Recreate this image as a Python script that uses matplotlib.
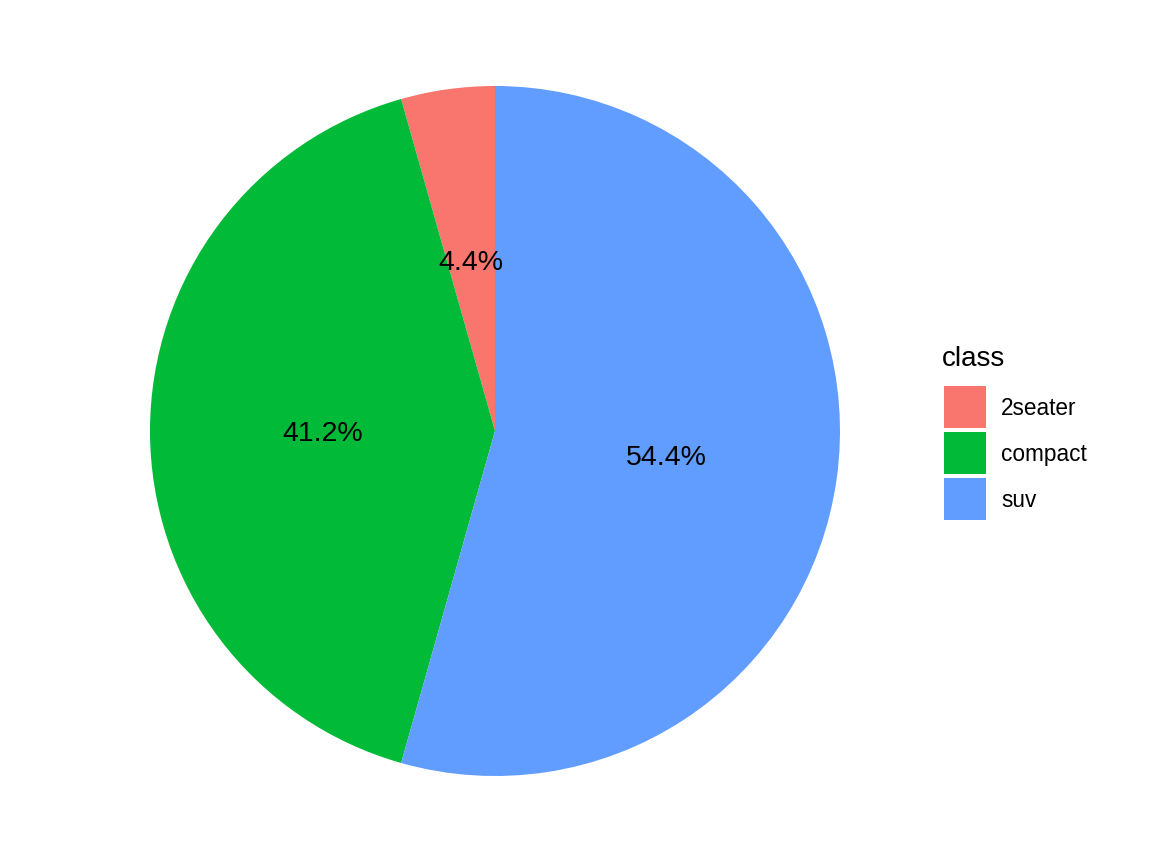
import matplotlib.pyplot as plt
from matplotlib.patches import Rectangle

plt.rcParams['font.family'] = ['Liberation Sans', 'DejaVu Sans']

classes = ['2seater', 'compact', 'suv']
counts = [5, 47, 62]
colors = ['#F8766D', '#00BA38', '#619CFF']

W, H = 1152, 864
fig = plt.figure(figsize=(W / 100, H / 100), dpi=100)

# pie: centre (495, 431), radius 345 px
cx, cy, r = 495, 431, 345
ax = fig.add_axes([(cx - r) / W, (H - cy - r) / H, 2 * r / W, 2 * r / H])
wedges, texts, autotexts = ax.pie(counts, colors=colors, startangle=90, counterclock=True,
                                  autopct='%1.1f%%', pctdistance=0.5, radius=1,
                                  wedgeprops=dict(linewidth=0),
                                  textprops=dict(fontsize=20.5, color='black'))
for t in autotexts:
    t.set_va('center_baseline')
ax.set_xlim(-1, 1)
ax.set_ylim(-1, 1)
ax.set_aspect('equal')
ax.axis('off')

# legend drawn in pixel coords
lax = fig.add_axes([0, 0, 1, 1])
lax.set_xlim(0, W)
lax.set_ylim(H, 0)
lax.axis('off')
lax.text(942, 366, 'class', fontsize=20, ha='left', va='baseline')
for i, (c, col) in enumerate(zip(classes, colors)):
    y0 = 386 + i * 46
    lax.add_patch(Rectangle((944, y0), 42, 42, facecolor=col, edgecolor='none'))
    lax.text(1001, y0 + 29, c, fontsize=16.3, ha='left', va='baseline')

fig.savefig('out.png', dpi=100)
